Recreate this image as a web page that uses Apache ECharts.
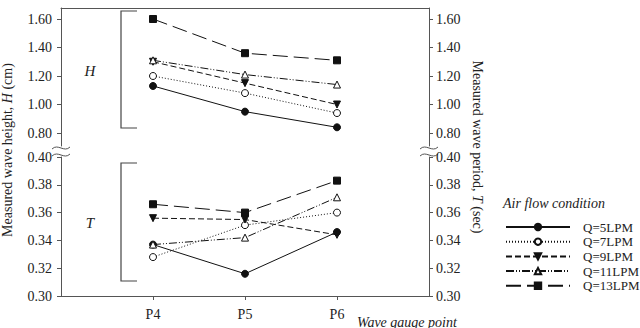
<!DOCTYPE html>
<html><head><meta charset="utf-8">
<script src="https://cdn.jsdelivr.net/npm/echarts@6/dist/echarts.min.js"></script>
<style>html,body{margin:0;padding:0;background:#fff}#c{width:640px;height:328px}</style>
</head><body><div id="c"></div>
<script>
const categories = ['P4', 'P5', 'P6'];
const seriesNames = ['Q=5LPM', 'Q=7LPM', 'Q=9LPM', 'Q=11LPM', 'Q=13LPM'];
// Measured wave height H (cm)
const heightQ5 = [1.13, 0.95, 0.84];
const heightQ7 = [1.20, 1.08, 0.94];
const heightQ9 = [1.30, 1.15, 1.00];
const heightQ11 = [1.31, 1.21, 1.14];
const heightQ13 = [1.60, 1.36, 1.31];
// Measured wave period T (sec)
const periodQ5 = [0.337, 0.316, 0.346];
const periodQ7 = [0.328, 0.351, 0.360];
const periodQ9 = [0.356, 0.355, 0.344];
const periodQ11 = [0.337, 0.342, 0.371];
const periodQ13 = [0.366, 0.360, 0.383];
const hTicks = [0.80, 1.00, 1.20, 1.40, 1.60];
const tTicks = [0.30, 0.32, 0.34, 0.36, 0.38, 0.40];

const heights = [heightQ5, heightQ7, heightQ9, heightQ11, heightQ13];
const periods = [periodQ5, periodQ7, periodQ9, periodQ11, periodQ13];

const serif = '"Liberation Serif", "DejaVu Serif", serif';
const axisColor = '#555';
const txt = '#222';
const lineColor = '#111';

const styles = [
  {symbol: 'circle', fill: lineColor, type: 'solid', rotate: 0},
  {symbol: 'circle', fill: '#fff', type: [1, 2], rotate: 0},
  {symbol: 'triangle', fill: lineColor, type: [6, 3], rotate: 180},
  {symbol: 'triangle', fill: '#fff', type: [8, 2, 1, 2, 1, 2], rotate: 0},
  {symbol: 'rect', fill: lineColor, type: [15, 6], rotate: 0}
];

const xCats = [''].concat(categories, ['']);
const pad = arr => ['-'].concat(arr, ['-']);

const chart = echarts.init(document.getElementById('c'), null, {renderer: 'svg'});

function yAxisCfg(grid, pos, min, max, ticks) {
  const c = {
    type: 'value', gridIndex: grid, position: pos, min: min, max: max,
    splitLine: {show: false},
    axisLine: {show: true, onZero: false, lineStyle: {color: axisColor, width: 1}},
    axisTick: {show: true, inside: false, length: 4, lineStyle: {color: axisColor}},
    axisLabel: {show: true, margin: pos === 'left' ? 9 : 7, fontFamily: serif, fontSize: 14, color: txt,
      formatter: v => v.toFixed(2)}
  };
  if (ticks) {
    c.axisTick.customValues = ticks;
    c.axisLabel.customValues = ticks;
  } else {
    c.interval = 0.02;
  }
  return c;
}

const series = [];
seriesNames.forEach((name, i) => {
  const s = styles[i];
  [0, 1].forEach(g => {
    series.push({
      name: name, type: 'line', xAxisIndex: g, yAxisIndex: g * 2,
      data: pad(g === 0 ? heights[i] : periods[i]),
      symbol: s.symbol, symbolSize: 7, symbolRotate: s.rotate,
      showSymbol: true, connectNulls: false,
      lineStyle: {color: lineColor, width: 1, type: s.type},
      itemStyle: {color: s.fill, borderColor: lineColor, borderWidth: 1},
      emphasis: {disabled: true},
      animation: false
    });
  });
});

function squiggle(cx, cy) {
  return {
    type: 'bezierCurve', silent: true,
    shape: {x1: cx - 9, y1: cy + 1, cpx1: cx - 3, cpy1: cy - 5, cpx2: cx + 3, cpy2: cy + 5, x2: cx + 9, y2: cy - 1},
    style: {stroke: axisColor, lineWidth: 1, fill: null}
  };
}

chart.setOption({
  animation: false,
  backgroundColor: '#fff',
  grid: [
    {left: 61, top: 8, width: 368, height: 138},
    {left: 61, top: 157, width: 368, height: 139}
  ],
  xAxis: [
    {type: 'category', gridIndex: 0, data: xCats, boundaryGap: false, position: 'top',
      axisLine: {show: true, lineStyle: {color: axisColor}}, axisTick: {show: false}, axisLabel: {show: false}},
    {type: 'category', gridIndex: 1, data: xCats, boundaryGap: false, position: 'bottom',
      axisLine: {show: true, lineStyle: {color: axisColor}},
      axisTick: {show: true, length: 4, interval: (i, v) => v !== '', lineStyle: {color: axisColor}},
      axisLabel: {show: true, interval: 0, margin: 11, fontFamily: serif, fontSize: 14, color: txt}}
  ],
  yAxis: [
    yAxisCfg(0, 'left', 0.7088, 1.6772, hTicks),
    yAxisCfg(0, 'right', 0.7088, 1.6772, hTicks),
    yAxisCfg(1, 'left', tTicks[0], tTicks[tTicks.length - 1], null),
    yAxisCfg(1, 'right', tTicks[0], tTicks[tTicks.length - 1], null)
  ],
  legend: {
    orient: 'vertical', left: 500, top: 215, data: seriesNames,
    itemWidth: 64, itemHeight: 8, itemGap: 0.7,
    textStyle: {fontFamily: serif, fontSize: 13, color: txt, lineHeight: 14, padding: [0, 0, 0, 8]},
    selectedMode: false
  },
  series: series,
  graphic: [
    {type: 'polyline', silent: true, shape: {points: [[137, 11], [121, 11], [121, 128], [137, 128]]},
      style: {stroke: '#444', lineWidth: 1.2, fill: null}},
    {type: 'polyline', silent: true, shape: {points: [[137, 163], [121, 163], [121, 281], [137, 281]]},
      style: {stroke: '#444', lineWidth: 1.2, fill: null}},
    {type: 'text', x: 90, y: 71, style: {text: 'H', font: 'italic 15px ' + serif, fill: txt, align: 'center', verticalAlign: 'middle'}},
    {type: 'text', x: 90, y: 223, style: {text: 'T', font: 'italic 15px ' + serif, fill: txt, align: 'center', verticalAlign: 'middle'}},
    {type: 'text', x: 7, y: 150, rotation: Math.PI / 2,
      style: {text: '{a|Measured wave height, }{b|H}{a| (cm)}', align: 'center', verticalAlign: 'middle',
        rich: {a: {fontFamily: serif, fontSize: 14, fill: txt}, b: {fontFamily: serif, fontSize: 14, fontStyle: 'italic', fill: txt}}}},
    {type: 'text', x: 477, y: 147, rotation: -Math.PI / 2,
      style: {text: '{a|Measured wave period, }{b|T}{a| (sec)}', align: 'center', verticalAlign: 'middle',
        rich: {a: {fontFamily: serif, fontSize: 14, fill: txt}, b: {fontFamily: serif, fontSize: 14, fontStyle: 'italic', fill: txt}}}},
    {type: 'text', x: 357, y: 322, style: {text: 'Wave gauge point', font: 'italic 14px ' + serif, fill: txt, align: 'left', verticalAlign: 'middle'}},
    {type: 'text', x: 503, y: 203, style: {text: 'Air flow condition', font: 'italic 14px ' + serif, fill: txt, align: 'left', verticalAlign: 'middle'}},
    squiggle(61, 148), squiggle(61, 155),
    squiggle(429, 148), squiggle(429, 155)
  ]
});
</script></body></html>
